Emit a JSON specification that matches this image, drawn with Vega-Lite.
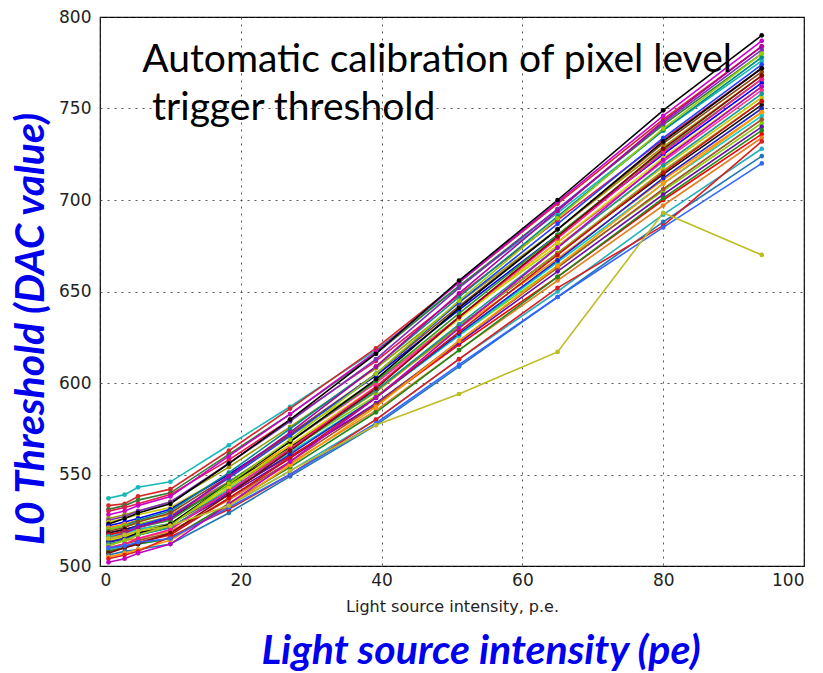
{
  "$schema": "https://vega.github.io/schema/vega-lite/v6.json",
  "width": 704,
  "height": 549,
  "autosize": {"type": "none"},
  "padding": {"left": 100, "top": 17, "right": 19, "bottom": 107},
  "background": "#ffffff",
  "config": {
    "view": {"stroke": "#000000", "strokeWidth": 1.2},
    "axis": {
      "domain": false,
      "ticks": false,
      "grid": true,
      "gridColor": "#333333",
      "gridDash": [2, 5],
      "gridWidth": 1,
      "gridOpacity": 0.8,
      "labelFont": "DejaVu Sans",
      "labelFontSize": 17,
      "labelColor": "#222222"
    }
  },
  "title": {
    "text": "Light source intensity (pe)",
    "orient": "bottom",
    "anchor": "middle",
    "frame": "group",
    "dx": 29,
    "offset": 18,
    "font": "Lato",
    "fontSize": 41,
    "fontStyle": "italic",
    "fontWeight": "bold",
    "color": "#0000ee"
  },
  "layer": [
    {
      "data": {"name": "curves"},
      "mark": {"type": "line", "strokeWidth": 1.6, "point": {"filled": true, "size": 22}},
      "encoding": {
        "x": {
          "field": "x", "type": "quantitative",
          "scale": {"domain": [0, 100], "nice": false, "zero": false},
          "axis": {
            "values": [0, 20, 40, 60, 80, 100],
            "labelPadding": 6,
            "title": "Light source intensity, p.e.",
            "titleFont": "DejaVu Sans",
            "titleFontSize": 16,
            "titleFontWeight": "normal",
            "titleColor": "#222222",
            "titlePadding": 10
          }
        },
        "y": {
          "field": "y", "type": "quantitative",
          "scale": {"domain": [500, 800], "nice": false, "zero": false},
          "axis": {
            "values": [500, 550, 600, 650, 700, 750, 800],
            "labelPadding": 9,
            "title": "L0 Threshold (DAC value)",
            "titleFont": "Lato",
            "titleFontSize": 41,
            "titleFontStyle": "italic",
            "titleFontWeight": "bold",
            "titleColor": "#0000ee",
            "titleX": -57,
            "titleY": 311.5,
            "titleAngle": -90,
            "titleAlign": "center",
            "titleBaseline": "alphabetic"
          }
        },
        "color": {
          "field": "s", "type": "nominal", "legend": null,
          "scale": {
            "domain": ["s01","s02","s03","s04","s05","s06","s07","s08","s09","s10","s11","s12","s13","s14","s15","s16","s17","s18","s19","s20","s21","s22","s23","s24","s25","s26","s27","s28","s29","s30","s31","s32","s33","s34","s35","s36","s37","s38","s39","s40","s41"],
            "range": ["#17b8b8","#d62728","#2e7d32","#e6194b","#cc00cc","#9a9a00","#7b2fbe","#c9c900","#000000","#0000ff","#ff8c00","#008b8b","#7fd000","#8b4513","#ff3399","#111111","#1f3fff","#ff0000","#22a022","#00cccc","#b0009f","#a0a010","#6a0dad","#d4d400","#000000","#2020cc","#e67e22","#139999","#99cc00","#a0522d","#ff1493","#20b0c0","#cc1111","#1a8a1a","#8b0000","#1f77b4","#ff9900","#e31a1c","#3366ff","#c000c0","#bcbd22"]
          }
        },
        "detail": {"field": "s"}
      }
    },
    {
      "data": {"name": "notes"},
      "mark": {"type": "text", "align": "left", "baseline": "alphabetic", "font": "Lato", "fontSize": 39, "color": "#000000"},
      "encoding": {
        "x": {"field": "x", "type": "quantitative"},
        "y": {"field": "y", "type": "quantitative"},
        "text": {"field": "label"}
      }
    }
  ],
  "datasets": {
    "notes": [
      {"label": "Automatic calibration of pixel level", "x": 6.0, "y": 770},
      {"label": "trigger threshold", "x": 7.4, "y": 743.5}
    ],
    "curves": [
      {"s":"s01","x":1.2,"y":537},{"s":"s01","x":3.5,"y":539},{"s":"s01","x":5.4,"y":543},{"s":"s01","x":10,"y":546},{"s":"s01","x":18.3,"y":566},{"s":"s01","x":27,"y":587},{"s":"s01","x":39.2,"y":618},{"s":"s01","x":51,"y":653},{"s":"s01","x":65,"y":693},{"s":"s01","x":80,"y":738},{"s":"s01","x":94,"y":776},
      {"s":"s02","x":1.2,"y":533},{"s":"s02","x":3.5,"y":534},{"s":"s02","x":5.4,"y":538},{"s":"s02","x":10,"y":542},{"s":"s02","x":18.3,"y":563},{"s":"s02","x":27,"y":586},{"s":"s02","x":39.2,"y":619},{"s":"s02","x":51,"y":655},{"s":"s02","x":65,"y":698},{"s":"s02","x":80,"y":744},{"s":"s02","x":94,"y":784},
      {"s":"s03","x":1.2,"y":531},{"s":"s03","x":3.5,"y":533},{"s":"s03","x":5.4,"y":536},{"s":"s03","x":10,"y":540},{"s":"s03","x":18.3,"y":561},{"s":"s03","x":27,"y":583},{"s":"s03","x":39.2,"y":616},{"s":"s03","x":51,"y":653},{"s":"s03","x":65,"y":695},{"s":"s03","x":80,"y":741},{"s":"s03","x":94,"y":780},
      {"s":"s04","x":1.2,"y":530},{"s":"s04","x":3.5,"y":532},{"s":"s04","x":5.4,"y":534},{"s":"s04","x":10,"y":539},{"s":"s04","x":18.3,"y":558},{"s":"s04","x":27,"y":580},{"s":"s04","x":39.2,"y":612},{"s":"s04","x":51,"y":648},{"s":"s04","x":65,"y":689},{"s":"s04","x":80,"y":733},{"s":"s04","x":94,"y":772},
      {"s":"s05","x":1.2,"y":528},{"s":"s05","x":3.5,"y":530},{"s":"s05","x":5.4,"y":533},{"s":"s05","x":10,"y":538},{"s":"s05","x":18.3,"y":560},{"s":"s05","x":27,"y":583},{"s":"s05","x":39.2,"y":617},{"s":"s05","x":51,"y":655},{"s":"s05","x":65,"y":699},{"s":"s05","x":80,"y":746},{"s":"s05","x":94,"y":787},
      {"s":"s06","x":1.2,"y":526},{"s":"s06","x":3.5,"y":528},{"s":"s06","x":5.4,"y":530},{"s":"s06","x":10,"y":535},{"s":"s06","x":18.3,"y":554},{"s":"s06","x":27,"y":576},{"s":"s06","x":39.2,"y":608},{"s":"s06","x":51,"y":644},{"s":"s06","x":65,"y":684},{"s":"s06","x":80,"y":729},{"s":"s06","x":94,"y":768},
      {"s":"s07","x":1.2,"y":525},{"s":"s07","x":3.5,"y":527},{"s":"s07","x":5.4,"y":530},{"s":"s07","x":10,"y":535},{"s":"s07","x":18.3,"y":556},{"s":"s07","x":27,"y":579},{"s":"s07","x":39.2,"y":613},{"s":"s07","x":51,"y":652},{"s":"s07","x":65,"y":695},{"s":"s07","x":80,"y":742},{"s":"s07","x":94,"y":782},
      {"s":"s08","x":1.2,"y":524},{"s":"s08","x":3.5,"y":526},{"s":"s08","x":5.4,"y":528},{"s":"s08","x":10,"y":532},{"s":"s08","x":18.3,"y":550},{"s":"s08","x":27,"y":571},{"s":"s08","x":39.2,"y":601},{"s":"s08","x":51,"y":636},{"s":"s08","x":65,"y":675},{"s":"s08","x":80,"y":718},{"s":"s08","x":94,"y":756},
      {"s":"s09","x":1.2,"y":523},{"s":"s09","x":3.5,"y":526},{"s":"s09","x":5.4,"y":529},{"s":"s09","x":10,"y":534},{"s":"s09","x":18.3,"y":556},{"s":"s09","x":27,"y":580},{"s":"s09","x":39.2,"y":616},{"s":"s09","x":51,"y":656},{"s":"s09","x":65,"y":700},{"s":"s09","x":80,"y":749},{"s":"s09","x":94,"y":790},
      {"s":"s10","x":1.2,"y":522},{"s":"s10","x":3.5,"y":524},{"s":"s10","x":5.4,"y":526},{"s":"s10","x":10,"y":531},{"s":"s10","x":18.3,"y":550},{"s":"s10","x":27,"y":572},{"s":"s10","x":39.2,"y":604},{"s":"s10","x":51,"y":640},{"s":"s10","x":65,"y":681},{"s":"s10","x":80,"y":725},{"s":"s10","x":94,"y":764},
      {"s":"s11","x":1.2,"y":521},{"s":"s11","x":3.5,"y":523},{"s":"s11","x":5.4,"y":525},{"s":"s11","x":10,"y":528},{"s":"s11","x":18.3,"y":546},{"s":"s11","x":27,"y":566},{"s":"s11","x":39.2,"y":596},{"s":"s11","x":51,"y":630},{"s":"s11","x":65,"y":668},{"s":"s11","x":80,"y":711},{"s":"s11","x":94,"y":748},
      {"s":"s12","x":1.2,"y":520},{"s":"s12","x":3.5,"y":522},{"s":"s12","x":5.4,"y":525},{"s":"s12","x":10,"y":530},{"s":"s12","x":18.3,"y":551},{"s":"s12","x":27,"y":575},{"s":"s12","x":39.2,"y":609},{"s":"s12","x":51,"y":647},{"s":"s12","x":65,"y":691},{"s":"s12","x":80,"y":738},{"s":"s12","x":94,"y":778},
      {"s":"s13","x":1.2,"y":520},{"s":"s13","x":3.5,"y":522},{"s":"s13","x":5.4,"y":523},{"s":"s13","x":10,"y":527},{"s":"s13","x":18.3,"y":544},{"s":"s13","x":27,"y":564},{"s":"s13","x":39.2,"y":593},{"s":"s13","x":51,"y":626},{"s":"s13","x":65,"y":664},{"s":"s13","x":80,"y":705},{"s":"s13","x":94,"y":742},
      {"s":"s14","x":1.2,"y":519},{"s":"s14","x":3.5,"y":521},{"s":"s14","x":5.4,"y":524},{"s":"s14","x":10,"y":529},{"s":"s14","x":18.3,"y":549},{"s":"s14","x":27,"y":572},{"s":"s14","x":39.2,"y":605},{"s":"s14","x":51,"y":642},{"s":"s14","x":65,"y":684},{"s":"s14","x":80,"y":731},{"s":"s14","x":94,"y":770},
      {"s":"s15","x":1.2,"y":518},{"s":"s15","x":3.5,"y":520},{"s":"s15","x":5.4,"y":522},{"s":"s15","x":10,"y":527},{"s":"s15","x":18.3,"y":546},{"s":"s15","x":27,"y":568},{"s":"s15","x":39.2,"y":600},{"s":"s15","x":51,"y":636},{"s":"s15","x":65,"y":677},{"s":"s15","x":80,"y":721},{"s":"s15","x":94,"y":760},
      {"s":"s16","x":1.2,"y":518},{"s":"s16","x":3.5,"y":520},{"s":"s16","x":5.4,"y":522},{"s":"s16","x":10,"y":526},{"s":"s16","x":18.3,"y":545},{"s":"s16","x":27,"y":565},{"s":"s16","x":39.2,"y":596},{"s":"s16","x":51,"y":631},{"s":"s16","x":65,"y":671},{"s":"s16","x":80,"y":714},{"s":"s16","x":94,"y":752},
      {"s":"s17","x":1.2,"y":517},{"s":"s17","x":3.5,"y":519},{"s":"s17","x":5.4,"y":522},{"s":"s17","x":10,"y":527},{"s":"s17","x":18.3,"y":548},{"s":"s17","x":27,"y":571},{"s":"s17","x":39.2,"y":605},{"s":"s17","x":51,"y":644},{"s":"s17","x":65,"y":687},{"s":"s17","x":80,"y":734},{"s":"s17","x":94,"y":774},
      {"s":"s18","x":1.2,"y":517},{"s":"s18","x":3.5,"y":519},{"s":"s18","x":5.4,"y":520},{"s":"s18","x":10,"y":523},{"s":"s18","x":18.3,"y":541},{"s":"s18","x":27,"y":560},{"s":"s18","x":39.2,"y":588},{"s":"s18","x":51,"y":621},{"s":"s18","x":65,"y":658},{"s":"s18","x":80,"y":700},{"s":"s18","x":94,"y":736},
      {"s":"s19","x":1.2,"y":516},{"s":"s19","x":3.5,"y":518},{"s":"s19","x":5.4,"y":521},{"s":"s19","x":10,"y":525},{"s":"s19","x":18.3,"y":546},{"s":"s19","x":27,"y":568},{"s":"s19","x":39.2,"y":601},{"s":"s19","x":51,"y":638},{"s":"s19","x":65,"y":681},{"s":"s19","x":80,"y":727},{"s":"s19","x":94,"y":766},
      {"s":"s20","x":1.2,"y":516},{"s":"s20","x":3.5,"y":518},{"s":"s20","x":5.4,"y":520},{"s":"s20","x":10,"y":523},{"s":"s20","x":18.3,"y":542},{"s":"s20","x":27,"y":562},{"s":"s20","x":39.2,"y":592},{"s":"s20","x":51,"y":626},{"s":"s20","x":65,"y":666},{"s":"s20","x":80,"y":709},{"s":"s20","x":94,"y":746},
      {"s":"s21","x":1.2,"y":515},{"s":"s21","x":3.5,"y":518},{"s":"s21","x":5.4,"y":521},{"s":"s21","x":10,"y":526},{"s":"s21","x":18.3,"y":549},{"s":"s21","x":27,"y":573},{"s":"s21","x":39.2,"y":609},{"s":"s21","x":51,"y":649},{"s":"s21","x":65,"y":694},{"s":"s21","x":80,"y":743},{"s":"s21","x":94,"y":784},
      {"s":"s22","x":1.2,"y":515},{"s":"s22","x":3.5,"y":517},{"s":"s22","x":5.4,"y":519},{"s":"s22","x":10,"y":523},{"s":"s22","x":18.3,"y":543},{"s":"s22","x":27,"y":564},{"s":"s22","x":39.2,"y":595},{"s":"s22","x":51,"y":631},{"s":"s22","x":65,"y":671},{"s":"s22","x":80,"y":716},{"s":"s22","x":94,"y":754},
      {"s":"s23","x":1.2,"y":514},{"s":"s23","x":3.5,"y":516},{"s":"s23","x":5.4,"y":518},{"s":"s23","x":10,"y":521},{"s":"s23","x":18.3,"y":539},{"s":"s23","x":27,"y":559},{"s":"s23","x":39.2,"y":589},{"s":"s23","x":51,"y":622},{"s":"s23","x":65,"y":661},{"s":"s23","x":80,"y":703},{"s":"s23","x":94,"y":740},
      {"s":"s24","x":1.2,"y":514},{"s":"s24","x":3.5,"y":516},{"s":"s24","x":5.4,"y":519},{"s":"s24","x":10,"y":523},{"s":"s24","x":18.3,"y":543},{"s":"s24","x":27,"y":566},{"s":"s24","x":39.2,"y":598},{"s":"s24","x":51,"y":635},{"s":"s24","x":65,"y":677},{"s":"s24","x":80,"y":723},{"s":"s24","x":94,"y":762},
      {"s":"s25","x":1.2,"y":513},{"s":"s25","x":3.5,"y":515},{"s":"s25","x":5.4,"y":518},{"s":"s25","x":10,"y":523},{"s":"s25","x":18.3,"y":545},{"s":"s25","x":27,"y":568},{"s":"s25","x":39.2,"y":602},{"s":"s25","x":51,"y":641},{"s":"s25","x":65,"y":684},{"s":"s25","x":80,"y":732},{"s":"s25","x":94,"y":772},
      {"s":"s26","x":1.2,"y":513},{"s":"s26","x":3.5,"y":515},{"s":"s26","x":5.4,"y":517},{"s":"s26","x":10,"y":521},{"s":"s26","x":18.3,"y":540},{"s":"s26","x":27,"y":561},{"s":"s26","x":39.2,"y":592},{"s":"s26","x":51,"y":627},{"s":"s26","x":65,"y":667},{"s":"s26","x":80,"y":712},{"s":"s26","x":94,"y":750},
      {"s":"s27","x":1.2,"y":512},{"s":"s27","x":3.5,"y":514},{"s":"s27","x":5.4,"y":515},{"s":"s27","x":10,"y":519},{"s":"s27","x":18.3,"y":536},{"s":"s27","x":27,"y":556},{"s":"s27","x":39.2,"y":585},{"s":"s27","x":51,"y":618},{"s":"s27","x":65,"y":656},{"s":"s27","x":80,"y":697},{"s":"s27","x":94,"y":734},
      {"s":"s28","x":1.2,"y":512},{"s":"s28","x":3.5,"y":514},{"s":"s28","x":5.4,"y":517},{"s":"s28","x":10,"y":521},{"s":"s28","x":18.3,"y":541},{"s":"s28","x":27,"y":563},{"s":"s28","x":39.2,"y":596},{"s":"s28","x":51,"y":632},{"s":"s28","x":65,"y":674},{"s":"s28","x":80,"y":719},{"s":"s28","x":94,"y":758},
      {"s":"s29","x":1.2,"y":511},{"s":"s29","x":3.5,"y":514},{"s":"s29","x":5.4,"y":517},{"s":"s29","x":10,"y":522},{"s":"s29","x":18.3,"y":545},{"s":"s29","x":27,"y":569},{"s":"s29","x":39.2,"y":605},{"s":"s29","x":51,"y":645},{"s":"s29","x":65,"y":690},{"s":"s29","x":80,"y":739},{"s":"s29","x":94,"y":780},
      {"s":"s30","x":1.2,"y":510},{"s":"s30","x":3.5,"y":512},{"s":"s30","x":5.4,"y":514},{"s":"s30","x":10,"y":518},{"s":"s30","x":18.3,"y":537},{"s":"s30","x":27,"y":557},{"s":"s30","x":39.2,"y":588},{"s":"s30","x":51,"y":623},{"s":"s30","x":65,"y":663},{"s":"s30","x":80,"y":706},{"s":"s30","x":94,"y":744},
      {"s":"s31","x":1.2,"y":510},{"s":"s31","x":3.5,"y":512},{"s":"s31","x":5.4,"y":515},{"s":"s31","x":10,"y":520},{"s":"s31","x":18.3,"y":541},{"s":"s31","x":27,"y":564},{"s":"s31","x":39.2,"y":598},{"s":"s31","x":51,"y":636},{"s":"s31","x":65,"y":679},{"s":"s31","x":80,"y":726},{"s":"s31","x":94,"y":766},
      {"s":"s32","x":1.2,"y":509},{"s":"s32","x":3.5,"y":511},{"s":"s32","x":5.4,"y":512},{"s":"s32","x":10,"y":515},{"s":"s32","x":18.3,"y":533},{"s":"s32","x":27,"y":552},{"s":"s32","x":39.2,"y":580},{"s":"s32","x":51,"y":613},{"s":"s32","x":65,"y":650},{"s":"s32","x":80,"y":692},{"s":"s32","x":94,"y":728},
      {"s":"s33","x":1.2,"y":508},{"s":"s33","x":3.5,"y":510},{"s":"s33","x":5.4,"y":513},{"s":"s33","x":10,"y":517},{"s":"s33","x":18.3,"y":537},{"s":"s33","x":27,"y":559},{"s":"s33","x":39.2,"y":592},{"s":"s33","x":51,"y":628},{"s":"s33","x":65,"y":670},{"s":"s33","x":80,"y":715},{"s":"s33","x":94,"y":754},
      {"s":"s34","x":1.2,"y":508},{"s":"s34","x":3.5,"y":510},{"s":"s34","x":5.4,"y":512},{"s":"s34","x":10,"y":515},{"s":"s34","x":18.3,"y":534},{"s":"s34","x":27,"y":554},{"s":"s34","x":39.2,"y":584},{"s":"s34","x":51,"y":618},{"s":"s34","x":65,"y":658},{"s":"s34","x":80,"y":701},{"s":"s34","x":94,"y":738},
      {"s":"s35","x":1.2,"y":507},{"s":"s35","x":3.5,"y":510},{"s":"s35","x":5.4,"y":512},{"s":"s35","x":10,"y":518},{"s":"s35","x":18.3,"y":539},{"s":"s35","x":27,"y":563},{"s":"s35","x":39.2,"y":597},{"s":"s35","x":51,"y":636},{"s":"s35","x":65,"y":680},{"s":"s35","x":80,"y":728},{"s":"s35","x":94,"y":768},
      {"s":"s36","x":1.2,"y":506},{"s":"s36","x":3.5,"y":508},{"s":"s36","x":5.4,"y":509},{"s":"s36","x":10,"y":512},{"s":"s36","x":18.3,"y":529},{"s":"s36","x":27,"y":549},{"s":"s36","x":39.2,"y":577},{"s":"s36","x":51,"y":609},{"s":"s36","x":65,"y":647},{"s":"s36","x":80,"y":688},{"s":"s36","x":94,"y":724},
      {"s":"s37","x":1.2,"y":505},{"s":"s37","x":3.5,"y":507},{"s":"s37","x":5.4,"y":509},{"s":"s37","x":10,"y":514},{"s":"s37","x":18.3,"y":533},{"s":"s37","x":27,"y":555},{"s":"s37","x":39.2,"y":587},{"s":"s37","x":51,"y":623},{"s":"s37","x":65,"y":664},{"s":"s37","x":80,"y":709},{"s":"s37","x":94,"y":748},
      {"s":"s38","x":1.2,"y":504},{"s":"s38","x":3.5,"y":506},{"s":"s38","x":5.4,"y":508},{"s":"s38","x":10,"y":516},{"s":"s38","x":18.3,"y":531},{"s":"s38","x":27,"y":550},{"s":"s38","x":39.2,"y":580},{"s":"s38","x":51,"y":613},{"s":"s38","x":65,"y":652},{"s":"s38","x":80,"y":686},{"s":"s38","x":94,"y":732},
      {"s":"s39","x":1.2,"y":510},{"s":"s39","x":3.5,"y":511},{"s":"s39","x":5.4,"y":513},{"s":"s39","x":10,"y":515},{"s":"s39","x":18.3,"y":532},{"s":"s39","x":27,"y":550},{"s":"s39","x":39.2,"y":578},{"s":"s39","x":51,"y":610},{"s":"s39","x":65,"y":647},{"s":"s39","x":80,"y":685},{"s":"s39","x":94,"y":720},
      {"s":"s40","x":1.2,"y":502},{"s":"s40","x":3.5,"y":504},{"s":"s40","x":5.4,"y":507},{"s":"s40","x":10,"y":512},{"s":"s40","x":18.3,"y":534},{"s":"s40","x":27,"y":557},{"s":"s40","x":39.2,"y":592},{"s":"s40","x":51,"y":630},{"s":"s40","x":65,"y":674},{"s":"s40","x":80,"y":722},{"s":"s40","x":94,"y":762},
      {"s":"s41","x":1.2,"y":515},{"s":"s41","x":3.5,"y":517},{"s":"s41","x":5.4,"y":519},{"s":"s41","x":10,"y":522},{"s":"s41","x":18.3,"y":533},{"s":"s41","x":27,"y":552},{"s":"s41","x":39.2,"y":577},{"s":"s41","x":51,"y":594},{"s":"s41","x":65,"y":617},{"s":"s41","x":80,"y":693},{"s":"s41","x":94,"y":670}
    ]
  }
}
